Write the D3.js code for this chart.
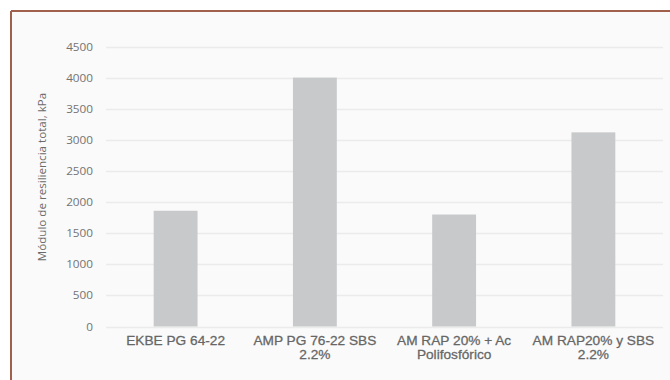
<!DOCTYPE html>
<html>
<head>
<meta charset="utf-8">
<script src="https://cdn.jsdelivr.net/npm/d3@7"></script>
<style>
  html, body { margin: 0; padding: 0; background: #ffffff; }
  svg { display: block; }
</style>
</head>
<body>
<svg id="chart" width="670" height="380"></svg>
<script>
// Resilient modulus per mixture
const categories = [
  ["EKBE PG 64-22"],
  ["AMP PG 76-22 SBS", "2.2%"],
  ["AM RAP 20% + Ac", "Polifosfórico"],
  ["AM RAP20% y SBS", "2.2%"]
];
const values = [1860, 4000, 1800, 3120];
const yTicks = [0, 500, 1000, 1500, 2000, 2500, 3000, 3500, 4000, 4500];
const yTitle = "Módulo de resiliencia total, kPa";

const svg = d3.select("#chart");
const W = 670, H = 380;

// chart area panel with a brown edge on top and left
svg.append("rect").attr("x", 11).attr("y", 11).attr("width", W - 11).attr("height", H - 11)
  .attr("fill", "#fafafa");
svg.append("line").attr("x1", 11).attr("x2", W).attr("y1", 11).attr("y2", 11)
  .attr("stroke", "#a0604c").attr("stroke-width", 2);
svg.append("line").attr("x1", 11).attr("x2", 11).attr("y1", 11).attr("y2", H)
  .attr("stroke", "#a0604c").attr("stroke-width", 2);

const plot = { left: 106, right: 663, top: 46.5, bottom: 326.5 };

const x = d3.scaleBand()
  .domain(d3.range(categories.length))
  .range([plot.left, plot.right])
  .paddingInner(0.685)
  .paddingOuter(0.3425);

const y = d3.scaleLinear().domain([0, 4500]).range([plot.bottom, plot.top]);

// gridlines
svg.append("g")
  .selectAll("line")
  .data(yTicks)
  .join("line")
  .attr("x1", plot.left).attr("x2", plot.right)
  .attr("y1", d => Math.round(y(d)) + 0.5).attr("y2", d => Math.round(y(d)) + 0.5)
  .attr("stroke", "#ebebeb").attr("stroke-width", 1.3);

// y axis labels
const yAxis = d3.axisLeft(y).tickValues(yTicks).tickSize(0).tickPadding(0)
  .tickFormat(d3.format("d"));
const gy = svg.append("g").attr("transform", `translate(93,0)`).call(yAxis);
gy.select(".domain").remove();
gy.selectAll("text")
  .attr("font-family", "'Open Sans', sans-serif")
  .attr("font-size", 10.5)
  .attr("fill", "#737373")
  .attr("transform", "scale(1.12,1)")
  .attr("dy", "0.34em");

// bars
svg.append("g")
  .selectAll("rect")
  .data(values)
  .join("rect")
  .attr("x", (d, i) => x(i))
  .attr("width", x.bandwidth())
  .attr("y", d => y(d))
  .attr("height", d => y(0) - y(d))
  .attr("fill", "#c8c9ca");

// category labels
const xAxis = d3.axisBottom(x).tickSize(0).tickFormat(() => "");
const gx = svg.append("g").attr("transform", `translate(0,${plot.bottom})`).call(xAxis);
gx.select(".domain").remove();
gx.selectAll(".tick").each(function (i) {
  const t = d3.select(this).append("text")
    .attr("font-family", "'Liberation Sans', Arial, sans-serif")
    .attr("font-size", 12)
    .attr("fill", "#666666")
    .attr("stroke", "#666666")
    .attr("stroke-width", 0.25)
    .attr("text-anchor", "middle")
    .attr("transform", "scale(1.14,1)");
  categories[i].forEach((line, k) => {
    t.append("tspan").attr("x", 0).attr("y", 19 + k * 13.5).text(line);
  });
});

// y axis title
svg.append("text")
  .attr("transform", `translate(46,177) rotate(-90)`)
  .attr("text-anchor", "middle")
  .attr("font-family", "'Open Sans', sans-serif")
  .attr("font-size", 11.6)
  .attr("fill", "#6a6a6a")
  .text(yTitle);
</script>
</body>
</html>
